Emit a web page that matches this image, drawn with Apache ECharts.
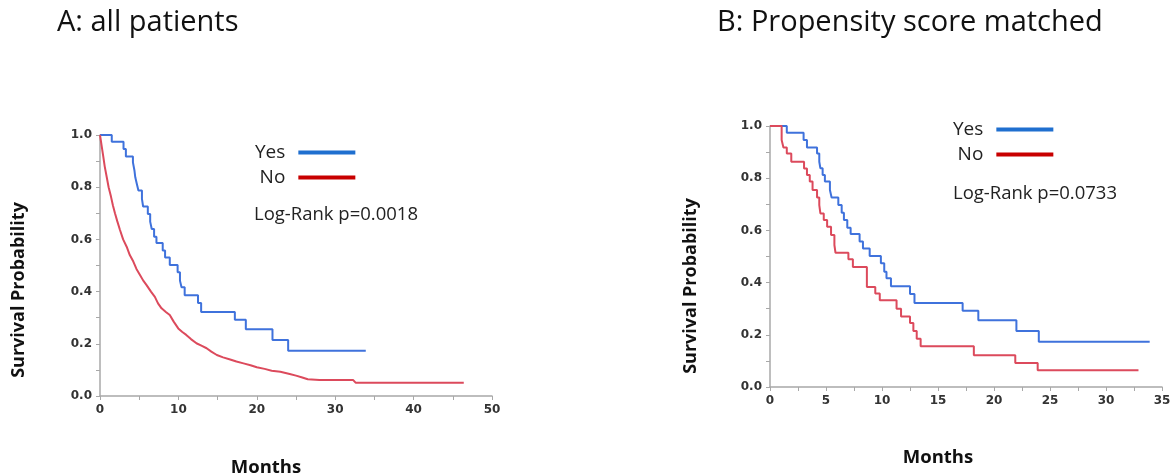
<!DOCTYPE html>
<html>
<head>
<meta charset="utf-8">
<script src="https://cdn.jsdelivr.net/npm/echarts@6/dist/echarts.min.js"></script>
<style>
  html, body { margin: 0; padding: 0; background: #fff; }
  #chart { width: 1175px; height: 476px; }
</style>
</head>
<body>
<div id="chart"></div>
<script>
// "Yes" group (same patients in both panels)
const yesMonths = [0, 1.5, 3.0, 3.3, 4.2, 4.4, 4.5, 4.7, 4.9, 5.35, 5.5, 6.1, 6.4, 6.6, 6.9, 7.2, 8.0, 8.3, 8.9, 9.9, 10.2, 10.4, 10.8, 12.5, 12.9, 17.2, 18.6, 22.0, 24.0, 33.9]
const yesSurv = [1.0, 0.974, 0.946, 0.918, 0.895, 0.863, 0.838, 0.812, 0.787, 0.755, 0.726, 0.697, 0.668, 0.64, 0.61, 0.586, 0.557, 0.531, 0.502, 0.474, 0.442, 0.417, 0.386, 0.356, 0.322, 0.292, 0.256, 0.215, 0.173, 0.173]

// "No" group, all patients (panel A)
const noAllMonths = [0, 0.2, 0.42, 0.6, 0.85, 1.1, 1.4, 1.65, 1.91, 2.2, 2.55, 2.95, 3.4, 3.8, 4.25, 4.65, 5.1, 5.5, 5.94, 6.5, 7.0, 7.4, 7.85, 8.4, 8.9, 9.4, 9.98, 10.5, 11.0, 11.6, 12.3, 13.0, 13.6, 14.2, 14.9, 15.7, 16.6, 17.4, 18.3, 19.2, 20.0, 21.0, 21.9, 23.0, 24.2, 25.0, 25.7, 26.5, 28.0, 32.3, 32.6, 46.4]
const noAllSurv = [1.0, 0.96, 0.917, 0.88, 0.84, 0.8, 0.764, 0.73, 0.7, 0.67, 0.636, 0.6, 0.572, 0.54, 0.515, 0.487, 0.464, 0.443, 0.425, 0.4, 0.38, 0.355, 0.336, 0.322, 0.31, 0.285, 0.259, 0.245, 0.234, 0.218, 0.202, 0.192, 0.183, 0.17, 0.157, 0.148, 0.14, 0.132, 0.125, 0.118, 0.11, 0.104, 0.097, 0.093, 0.084, 0.078, 0.072, 0.064, 0.061, 0.061, 0.051, 0.051]

// "No" group, propensity score matched (panel B)
const noMatchedMonths = [0, 1.04, 1.2, 1.5, 1.9, 3.04, 3.3, 3.55, 3.8, 4.2, 4.4, 4.5, 4.8, 5.1, 5.45, 5.75, 5.85, 7.0, 7.4, 8.65, 9.4, 9.8, 11.3, 11.7, 12.5, 12.8, 13.1, 13.45, 18.2, 21.9, 23.9, 32.9]
const noMatchedSurv = [1.0, 0.946, 0.918, 0.895, 0.863, 0.837, 0.812, 0.787, 0.755, 0.726, 0.697, 0.665, 0.64, 0.614, 0.582, 0.544, 0.514, 0.489, 0.46, 0.383, 0.358, 0.332, 0.3, 0.27, 0.245, 0.215, 0.185, 0.156, 0.122, 0.092, 0.064, 0.064]

const panelTitles = ['A: all patients', 'B: Propensity score matched']
const pValues = ['Log-Rank p=0.0018', 'Log-Rank p=0.0733']
const xMax = [50, 35]
const xStep = [10, 5]

const curveBlue = '#3f72dc'
const curveRed = '#dc4a5c'
const legendBlue = '#1f6fcf'
const legendRed = '#c80000'
const axisGray = '#a8a8a8'

const pairs = (xs, ys) => xs.map((x, i) => [x, ys[i]])

function makeX(idx) {
  return {
    type: 'value',
    gridIndex: idx,
    min: 0,
    max: xMax[idx],
    interval: xStep[idx],
    axisLine: { lineStyle: { color: axisGray, width: 1.5 } },
    axisTick: { show: true, length: 4, lineStyle: { color: axisGray } },
    minorTick: { show: true, splitNumber: 2, length: 4, lineStyle: { color: axisGray } },
    splitLine: { show: false },
    axisLabel: {
      margin: 8,
      color: '#333',
      fontFamily: 'DejaVu Sans',
      fontWeight: 'bold',
      fontSize: 12
    }
  }
}

function makeY(idx) {
  return {
    type: 'value',
    gridIndex: idx,
    min: 0,
    max: 1,
    interval: 0.2,
    axisLine: { show: true, lineStyle: { color: axisGray, width: 1.5 } },
    axisTick: { show: true, length: 4, lineStyle: { color: axisGray } },
    minorTick: { show: true, splitNumber: 2, length: 4, lineStyle: { color: axisGray } },
    splitLine: { show: false },
    axisLabel: {
      margin: 8,
      color: '#333',
      fontFamily: 'DejaVu Sans',
      fontWeight: 'bold',
      fontSize: 12,
      formatter: (v) => v.toFixed(1)
    }
  }
}

function makeLegend(left, top) {
  return {
    left: left,
    top: top,
    orient: 'vertical',
    align: 'right',
    itemWidth: 57,
    itemHeight: 4,
    itemGap: 6,
    selectedMode: false,
    textStyle: { fontFamily: 'Open Sans', fontSize: 19, color: '#222', padding: [0, 8, 0, 0] },
    data: [
      { name: 'Yes', icon: 'rect', itemStyle: { color: legendBlue } },
      { name: 'No', icon: 'rect', itemStyle: { color: legendRed } }
    ]
  }
}

function lineSeries(name, idx, data, color, step) {
  return {
    name: name,
    type: 'line',
    xAxisIndex: idx,
    yAxisIndex: idx,
    step: step,
    showSymbol: false,
    symbol: 'none',
    silent: true,
    data: data,
    lineStyle: { width: 2, color: color },
    itemStyle: { color: color }
  }
}

const textStyleBase = { fill: '#111', fontFamily: 'Open Sans' }

const chart = echarts.init(document.getElementById('chart'))
chart.setOption({
  animation: false,
  backgroundColor: '#fff',
  grid: [
    { left: 100, top: 135, width: 392, height: 261, containLabel: false },
    { left: 770, top: 126, width: 392, height: 261, containLabel: false }
  ],
  xAxis: [makeX(0), makeX(1)],
  yAxis: [makeY(0), makeY(1)],
  legend: [makeLegend(250, 138), makeLegend(948, 115)],
  series: [
    lineSeries('Yes', 0, pairs(yesMonths, yesSurv), curveBlue, 'end'),
    lineSeries('No', 0, pairs(noAllMonths, noAllSurv), curveRed, false),
    lineSeries('Yes', 1, pairs(yesMonths, yesSurv), curveBlue, 'end'),
    lineSeries('No', 1, pairs(noMatchedMonths, noMatchedSurv), curveRed, 'end')
  ],
  graphic: [
    { type: 'text', left: 57, top: 8, style: { ...textStyleBase, text: panelTitles[0], fontSize: 29 } },
    { type: 'text', left: 717, top: 8, style: { ...textStyleBase, text: panelTitles[1], fontSize: 29 } },
    { type: 'text', left: 254, top: 205, style: { ...textStyleBase, text: pValues[0], fontSize: 18.5, fill: '#222' } },
    { type: 'text', left: 953, top: 184, style: { ...textStyleBase, text: pValues[1], fontSize: 18.5, fill: '#222' } },
    {
      type: 'text', x: 19, y: 290, rotation: Math.PI / 2,
      style: { ...textStyleBase, text: 'Survival Probability', fontSize: 18, fontWeight: 'bold', align: 'center', verticalAlign: 'middle' }
    },
    {
      type: 'text', x: 691, y: 286, rotation: Math.PI / 2,
      style: { ...textStyleBase, text: 'Survival Probability', fontSize: 18, fontWeight: 'bold', align: 'center', verticalAlign: 'middle' }
    },
    {
      type: 'text', x: 266, y: 468,
      style: { ...textStyleBase, text: 'Months', fontSize: 18.5, fontWeight: 'bold', align: 'center', verticalAlign: 'middle' }
    },
    {
      type: 'text', x: 938, y: 458,
      style: { ...textStyleBase, text: 'Months', fontSize: 18.5, fontWeight: 'bold', align: 'center', verticalAlign: 'middle' }
    }
  ]
})
</script>
</body>
</html>
